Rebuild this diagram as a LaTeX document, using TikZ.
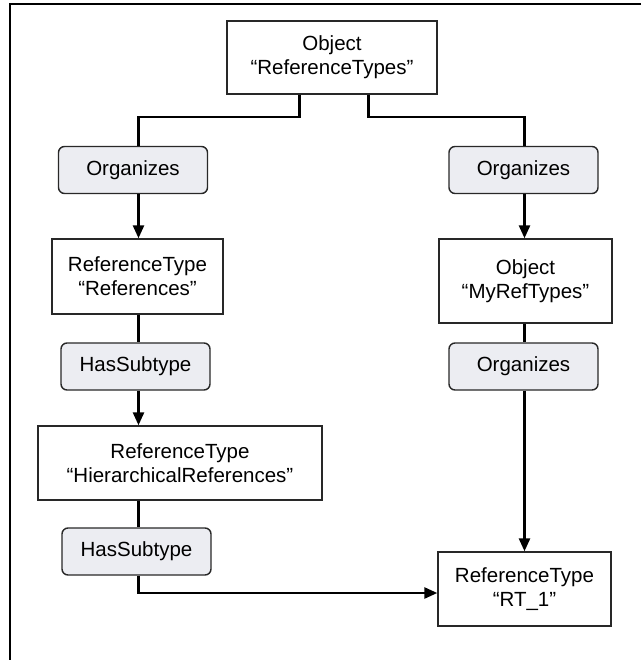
\documentclass[tikz,border=0pt]{standalone}
\usepackage{fontspec}
\setmainfont{Liberation Sans}
\usetikzlibrary{arrows.meta}
\definecolor{relfill}{RGB}{236,237,242}
\definecolor{boxline}{RGB}{40,40,40}
\begin{document}
\begin{tikzpicture}[x=1pt,y=-1pt]
	\tikzstyle{every node}=[inner sep=0pt, align=center, font=\fontsize{20.5}{24}\selectfont]
	\tikzstyle{objbox}=[draw=boxline, line width=1.4pt, fill=white]
	\tikzstyle{relbox}=[draw=boxline, line width=1.4pt, fill=relfill, rounded corners=6pt,
	                   minimum width=149pt, minimum height=47pt]
	\tikzstyle{conn}=[line width=2.6pt]
	\tikzstyle{arr}=[conn, -{Triangle[length=13pt,width=11pt]}]
	\useasboundingbox (0,0) rectangle (641,660);
	% frame
	\draw[line width=2.2pt] (641,4) -- (10,4) -- (10,660);
	% nodes
	\path (332,57.5) node[objbox, minimum width=210pt, minimum height=73pt] (top) {Object\\“ReferenceTypes”}
	      (133,170) node[relbox] (orgL) {Organizes}
	      (523.5,170) node[relbox] (orgR) {Organizes}
	      (137.5,276.5) node[objbox, minimum width=171pt, minimum height=75pt] (refs) {ReferenceType\\“References”}
	      (135.5,366.5) node[relbox] (subA) {HasSubtype}
	      (180,463) node[objbox, minimum width=284pt, minimum height=74pt] (hier) {ReferenceType\\“HierarchicalReferences”}
	      (136.5,551.5) node[relbox] (subB) {HasSubtype}
	      (525.5,281) node[objbox, minimum width=173pt, minimum height=84pt] (myref) {Object\\“MyRefTypes”}
	      (523.5,366.5) node[relbox] (orgR2) {Organizes}
	      (524.5,589) node[objbox, minimum width=173pt, minimum height=74pt] (rt1) {ReferenceType\\“RT\_1”};
	% columns and bends
	\coordinate (colL) at (138.5,0);
	\coordinate (colR) at (524.5,0);
	\coordinate (legL) at (299.5,117);
	\coordinate (legR) at (368.5,117);
	\coordinate (turn) at (138.5,593);
	% connectors
	\draw[conn] (top.south -| legL) -- (legL) -| (orgL.north -| colL);
	\draw[conn] (top.south -| legR) -- (legR) -| (orgR.north -| colR);
	\draw[arr] (orgL.south -| colL) -- (refs.north -| colL);
	\draw[conn] (refs.south -| colL) -- (subA.north -| colL);
	\draw[arr] (subA.south -| colL) -- (hier.north -| colL);
	\draw[conn] (hier.south -| colL) -- (subB.north -| colL);
	\draw[arr] (subB.south -| colL) -- (turn) -- (rt1.west |- turn);
	\draw[arr] (orgR.south -| colR) -- (myref.north -| colR);
	\draw[conn] (myref.south -| colR) -- (orgR2.north -| colR);
	\draw[arr] (orgR2.south -| colR) -- (rt1.north -| colR);
\end{tikzpicture}
\end{document}
